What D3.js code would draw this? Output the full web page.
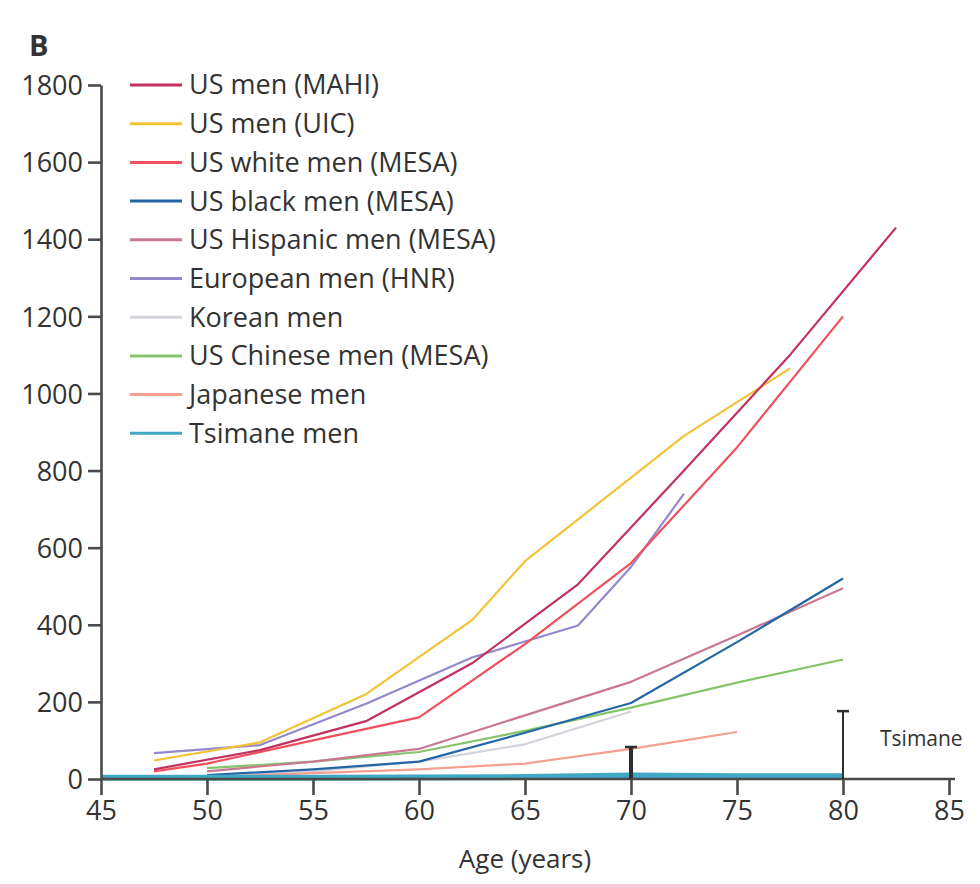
<!DOCTYPE html>
<html>
<head>
<meta charset="utf-8">
<script src="https://cdn.jsdelivr.net/npm/d3@7"></script>
<style>
  body { margin: 0; background: #fff; }
  svg text { font-family: "Open Sans", sans-serif; fill: #333; }
</style>
</head>
<body>
<script>
// series names, colours and values
const seriesNames = ["US men (MAHI)", "US men (UIC)", "US white men (MESA)", "US black men (MESA)",
  "US Hispanic men (MESA)", "European men (HNR)", "Korean men", "US Chinese men (MESA)",
  "Japanese men", "Tsimane men"];
const seriesColors = ["#c3325f", "#f2c337", "#f0505e", "#2466a6", "#c87890", "#9488cc",
  "#d2d2da", "#86c46a", "#f3a08e", "#3fa9c4"];

const mahiAges = [47.5, 52.5, 57.5, 62.5, 67.5, 72.5, 77.5, 82.5];
const mahiVals = [25, 75, 150, 300, 505, 800, 1100, 1430];
const uicAges = [47.5, 52.5, 57.5, 62.5, 65, 72.5, 77.5];
const uicVals = [48, 95, 220, 412, 565, 890, 1065];
const whiteAges = [47.5, 50, 55, 60, 65, 70, 75, 80];
const whiteVals = [20, 40, 100, 160, 350, 560, 860, 1200];
const blackAges = [50, 55, 60, 65, 70, 75, 80];
const blackVals = [10, 25, 45, 120, 197, 355, 520];
const hispAges = [50, 55, 60, 65, 70, 75, 80];
const hispVals = [20, 45, 78, 165, 252, 372, 495];
const hnrAges = [47.5, 52.5, 57.5, 62.5, 67.5, 70, 72.5];
const hnrVals = [67, 88, 195, 315, 398, 550, 740];
const koreanAges = [50, 55, 60, 65, 70];
const koreanVals = [5, 20, 45, 90, 175];
const chineseAges = [50, 55, 60, 65, 70, 75, 80];
const chineseVals = [28, 45, 70, 125, 185, 250, 310];
const japanAges = [50, 55, 60, 65, 70, 75];
const japanVals = [5, 15, 25, 40, 78, 122];
const tsimaneAges = [45, 50, 55, 60, 65, 70, 75, 80];
const tsimaneVals = [3, 3, 3, 4, 5, 9, 7, 7];

// Tsimane error bars
const errAges = [70, 80];
const errHigh = [83, 176];
const errWidth = [4, 2];

const xTicks = [45, 50, 55, 60, 65, 70, 75, 80, 85];
const yTicks = [0, 200, 400, 600, 800, 1000, 1200, 1400, 1600, 1800];

const seriesAges = [mahiAges, uicAges, whiteAges, blackAges, hispAges, hnrAges, koreanAges, chineseAges, japanAges, tsimaneAges];
const seriesVals = [mahiVals, uicVals, whiteVals, blackVals, hispVals, hnrVals, koreanVals, chineseVals, japanVals, tsimaneVals];

const w = 980, h = 888;
const svg = d3.select("body").append("svg").attr("width", w).attr("height", h);

const x = d3.scaleLinear().domain([45, 85]).range([101, 949]);
const y = d3.scaleLinear().domain([0, 1800]).range([779, 85]);

const line = d3.line().x(d => x(d[0])).y(d => y(d[1]));

// draw order: faint ones first, Tsimane band on top
const order = [6, 8, 7, 4, 3, 5, 2, 1, 0, 9];
order.forEach(i => {
  const pts = seriesAges[i].map((a, j) => [a, seriesVals[i][j]]);
  svg.append("path")
    .datum(pts)
    .attr("d", line)
    .attr("fill", "none")
    .attr("stroke", seriesColors[i])
    .attr("stroke-width", i === 9 ? 6 : 2.2)
    .attr("stroke-linejoin", "round");
});

// axes
const xAxis = d3.axisBottom(x).tickValues(xTicks).tickSize(16).tickSizeOuter(0).tickPadding(6);
const gx = svg.append("g").attr("transform", "translate(0," + y(0) + ")").call(xAxis);
gx.select(".domain").attr("d", "M" + x(45) + ",0H" + (x(85) + 6));

const yAxis = d3.axisLeft(y).tickValues(yTicks).tickFormat(d3.format("d")).tickSize(13).tickSizeOuter(0).tickPadding(5);
const gy = svg.append("g").attr("transform", "translate(" + x(45) + ",0)").call(yAxis);

[gx, gy].forEach(g => {
  g.selectAll("path,line").attr("stroke", "#4a4a4a").attr("stroke-width", 2.6);
  g.selectAll("text").style("font-size", "27px").attr("fill", "#333").style("font-family", "'Open Sans', sans-serif");
});
gy.selectAll("text").attr("dy", "0.36em");

// error bars
errAges.forEach((a, i) => {
  const g = svg.append("g").attr("stroke", "#2e2e2e").attr("stroke-width", errWidth[i]);
  g.append("line").attr("x1", x(a)).attr("x2", x(a)).attr("y1", y(0)).attr("y2", y(errHigh[i]));
  g.append("line").attr("x1", x(a) - 6).attr("x2", x(a) + 6).attr("y1", y(errHigh[i])).attr("y2", y(errHigh[i])).attr("stroke-width", 2.5);
});
svg.append("text").attr("x", 880).attr("y", 746).style("font-size", "21px").text("Tsimane");

// legend
const leg = svg.append("g");
seriesNames.forEach((name, i) => {
  const ly = 85 + i * 38.7;
  leg.append("line").attr("x1", 130).attr("x2", 182).attr("y1", ly).attr("y2", ly)
    .attr("stroke", seriesColors[i]).attr("stroke-width", 3);
  leg.append("text").attr("x", 189).attr("y", ly).attr("dy", "0.35em")
    .style("font-size", "27px").text(name);
});

// panel label and axis title
svg.append("text").attr("x", 29).attr("y", 56).style("font-size", "29px").style("font-weight", "bold").text("B");
svg.append("text").attr("x", x(65)).attr("y", 868).attr("text-anchor", "middle").style("font-size", "26px").text("Age (years)");

// pink rule at the bottom
svg.append("rect").attr("x", 0).attr("y", 884).attr("width", w).attr("height", 4).attr("fill", "#f6c8da");
</script>
</body>
</html>
